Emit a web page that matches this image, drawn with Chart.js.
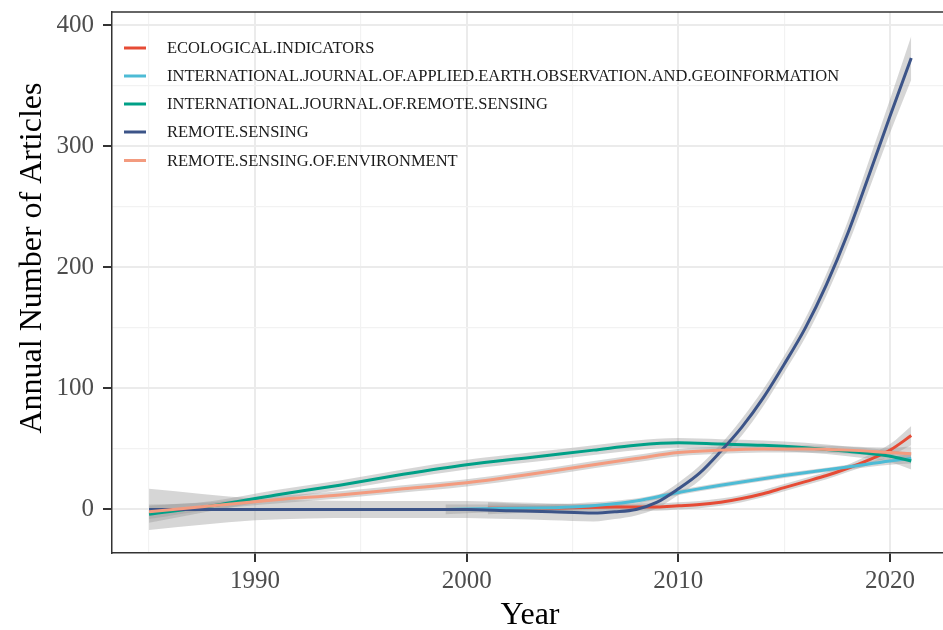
<!DOCTYPE html>
<html>
<head>
<meta charset="utf-8">
<script src="https://cdn.jsdelivr.net/npm/chart.js@4.4.1/dist/chart.umd.min.js"></script>
<style>
  body { margin: 0; background: #fff; }
  #wrap { width: 943px; height: 630px; }
</style>
</head>
<body>
<div id="wrap"><canvas id="trendChart" width="943" height="630"></canvas></div>
<script>
// 系列名
const journals = [
    'ECOLOGICAL.INDICATORS',
    'INTERNATIONAL.JOURNAL.OF.APPLIED.EARTH.OBSERVATION.AND.GEOINFORMATION',
    'INTERNATIONAL.JOURNAL.OF.REMOTE.SENSING',
    'REMOTE.SENSING',
    'REMOTE.SENSING.OF.ENVIRONMENT'
];
const colors = ['#E64B35', '#4DBBD5', '#00A087', '#3C5488', '#F39B7F'];

// ECOLOGICAL.INDICATORS
const ecoYears = [2001, 2004, 2007, 2009, 2010, 2011, 2012, 2013, 2014, 2015, 2016, 2017, 2018, 2019, 2020, 2021];
const ecoValues = [1, 1, 2, 2, 3, 4, 6, 9, 13, 18, 23, 28, 34, 41, 49, 61];
const ecoSe = [5, 3, 3, 3, 3, 3, 3, 3, 3, 3, 3, 3, 3, 4, 5, 8];

// INTERNATIONAL.JOURNAL.OF.APPLIED.EARTH.OBSERVATION.AND.GEOINFORMATION
const jagYears = [1999, 2002, 2005, 2008, 2010, 2012, 2015, 2018, 2020, 2021];
const jagValues = [0, 1, 2, 7, 14, 20, 28, 35, 40, 42];
const jagSe = [4, 3, 3, 2, 2, 2, 2, 2, 3, 4];

// INTERNATIONAL.JOURNAL.OF.REMOTE.SENSING
const ijrsYears = [1985, 1988, 1991, 1994, 1997, 2000, 2003, 2006, 2008, 2010, 2012, 2014, 2016, 2018, 2020, 2021];
const ijrsValues = [-4, 3, 12, 20, 29, 37, 43, 49, 53, 55, 54, 53, 51, 48, 44, 40];
const ijrsSe = [7, 4, 4, 4, 4, 4, 4, 4, 4, 4, 4, 4, 4, 4, 5, 7];

// REMOTE.SENSING
const rsYears = [1985, 1990, 1995, 2000, 2002, 2004, 2006, 2007, 2008, 2009, 2010, 2011, 2012, 2013, 2014, 2015, 2016, 2017, 2018, 2019, 2020, 2021];
const rsValues = [0, 0, 0, 0, -1, -2, -3, -2, 0, 6, 17, 30, 48, 68, 92, 120, 150, 186, 228, 276, 325, 373];
const rsSe = [17, 9, 7, 7, 7, 7, 7, 6, 5, 5, 5, 6, 6, 7, 7, 7, 8, 9, 10, 12, 14, 18];

// REMOTE.SENSING.OF.ENVIRONMENT
const rseYears = [1985, 1988, 1991, 1994, 1997, 2000, 2003, 2006, 2008, 2010, 2012, 2014, 2016, 2018, 2020, 2021];
const rseValues = [-2, 3, 8, 12, 17, 22, 29, 37, 42, 47, 49, 50, 50, 49, 47, 46];
const rseSe = [6, 3, 3, 3, 3, 3, 3, 3, 3, 3, 3, 3, 3, 3, 4, 6];

// 目盛り
const yGrid = [0, 50, 100, 150, 200, 250, 300, 350, 400];
const xGrid = [1985, 1990, 1995, 2000, 2005, 2010, 2015, 2020];

const seriesList = [
    { years: ecoYears, values: ecoValues, se: ecoSe },
    { years: jagYears, values: jagValues, se: jagSe },
    { years: ijrsYears, values: ijrsValues, se: ijrsSe },
    { years: rsYears, values: rsValues, se: rsSe },
    { years: rseYears, values: rseValues, se: rseSe }
];

const serif = "'Liberation Serif', 'DejaVu Serif', serif";

function toPoints(years, values) {
    return years.map((y, i) => ({ x: y, y: values[i] }));
}

const datasets = [];
seriesList.forEach((s, i) => {
    // 信頼区間(上・下)
    datasets.push({
        label: journals[i] + ' upper',
        data: toPoints(s.years, s.values.map((v, k) => v + s.se[k])),
        borderWidth: 0,
        pointRadius: 0,
        backgroundColor: 'rgba(153,153,153,0.4)',
        fill: '+1',
        cubicInterpolationMode: 'monotone',
        order: 20 + i
    });
    datasets.push({
        label: journals[i] + ' lower',
        data: toPoints(s.years, s.values.map((v, k) => v - s.se[k])),
        borderWidth: 0,
        pointRadius: 0,
        fill: false,
        cubicInterpolationMode: 'monotone',
        order: 20 + i
    });
});
seriesList.forEach((s, i) => {
    datasets.push({
        label: journals[i],
        data: toPoints(s.years, s.values),
        borderColor: colors[i],
        borderWidth: 3,
        pointRadius: 0,
        fill: false,
        cubicInterpolationMode: 'monotone',
        order: 10 - i
    });
});

// 凡例とタイトル、上枠
const decorPlugin = {
    id: 'decor',
    afterDraw(chart) {
        const ctx = chart.ctx;
        const area = chart.chartArea;
        ctx.save();
        // 上の枠線
        ctx.strokeStyle = '#333333';
        ctx.lineWidth = 1.5;
        ctx.beginPath();
        ctx.moveTo(area.left, area.top);
        ctx.lineTo(area.right, area.top);
        ctx.stroke();

        // 凡例
        const rowY = [48, 76, 104, 132, 160.5];
        ctx.font = '16.5px ' + serif;
        ctx.textBaseline = 'middle';
        ctx.textAlign = 'left';
        journals.forEach((name, i) => {
            ctx.strokeStyle = colors[i];
            ctx.lineWidth = 3;
            ctx.beginPath();
            ctx.moveTo(124, rowY[i]);
            ctx.lineTo(146, rowY[i]);
            ctx.stroke();
            ctx.fillStyle = '#1a1a1a';
            ctx.fillText(name, 167, rowY[i] + 1);
        });

        // 軸タイトル
        ctx.fillStyle = '#000000';
        ctx.font = '32px ' + serif;
        ctx.textAlign = 'center';
        ctx.textBaseline = 'alphabetic';
        ctx.fillText('Year', 530, 624);
        ctx.translate(41, 258);
        ctx.rotate(-Math.PI / 2);
        ctx.fillText('Annual Number of Articles', 0, 0);
        ctx.restore();
    }
};

const chartContext = document.getElementById('trendChart').getContext('2d');
new Chart(chartContext, {
    type: 'line',
    data: { datasets: datasets },
    options: {
        responsive: false,
        animation: false,
        layout: { padding: { top: 12, right: 0, left: 0, bottom: 0 } },
        plugins: {
            legend: { display: false },
            tooltip: { enabled: false },
            filler: { drawTime: 'beforeDatasetsDraw' }
        },
        scales: {
            x: {
                type: 'linear',
                min: 1983.25,
                max: 2022.5,
                afterBuildTicks: axis => { axis.ticks = xGrid.map(v => ({ value: v })); },
                afterFit: axis => {
                    axis.height = 77;
                    axis.paddingLeft = 0;
                    axis.paddingRight = 0;
                },
                border: { display: true, color: '#333333', width: 1.5 },
                grid: {
                    color: c => (c.tick && c.tick.value % 10 === 0) ? '#EBEBEB' : '#F2F2F2',
                    lineWidth: c => (c.tick && c.tick.value % 10 === 0) ? 2 : 1.2,
                    tickColor: c => (c.tick && c.tick.value % 10 === 0) ? '#333333' : 'rgba(0,0,0,0)',
                    tickWidth: 2,
                    tickLength: 9
                },
                ticks: {
                    autoSkip: false,
                    maxRotation: 0,
                    padding: 4,
                    color: '#4D4D4D',
                    font: { family: serif, size: 25 },
                    callback: v => (v % 10 === 0 ? String(v) : '')
                }
            },
            y: {
                type: 'linear',
                min: -36,
                max: 411,
                afterBuildTicks: axis => { axis.ticks = yGrid.map(v => ({ value: v })); },
                afterFit: axis => {
                    axis.width = 112;
                    axis.paddingTop = 0;
                    axis.paddingBottom = 0;
                },
                border: { display: true, color: '#333333', width: 1.5 },
                grid: {
                    color: c => (c.tick && c.tick.value % 100 === 0) ? '#EBEBEB' : '#F2F2F2',
                    lineWidth: c => (c.tick && c.tick.value % 100 === 0) ? 2 : 1.2,
                    tickColor: c => (c.tick && c.tick.value % 100 === 0) ? '#333333' : 'rgba(0,0,0,0)',
                    tickWidth: 2,
                    tickLength: 9
                },
                ticks: {
                    autoSkip: false,
                    padding: 9,
                    color: '#4D4D4D',
                    font: { family: serif, size: 25 },
                    callback: v => (v % 100 === 0 ? String(v) : '')
                }
            }
        }
    },
    plugins: [decorPlugin]
});
</script>
</body>
</html>
